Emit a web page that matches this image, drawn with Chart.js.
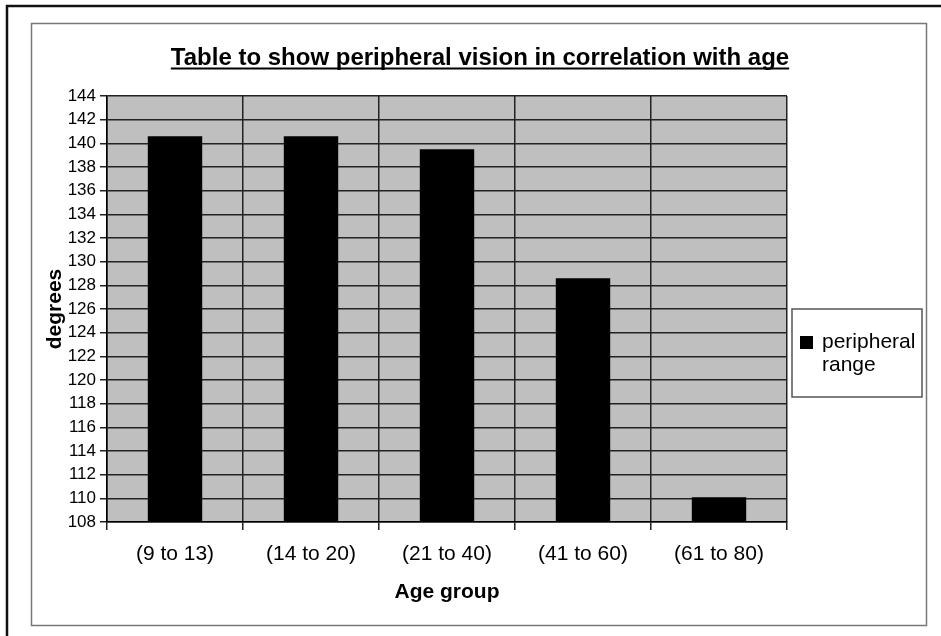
<!DOCTYPE html>
<html>
<head>
<meta charset="utf-8">
<script src="https://cdn.jsdelivr.net/npm/chart.js@4"></script>
<style>
  html, body { margin: 0; padding: 0; background: #fff; }
  #wrap { width: 941px; height: 636px; }
</style>
</head>
<body>
<div id="wrap"><canvas id="myChart" width="941" height="636"></canvas></div>
<script>
var chartTitle = "Table to show peripheral vision in correlation with age";
var ageGroups = ["(9 to 13)", "(14 to 20)", "(21 to 40)", "(41 to 60)", "(61 to 80)"];
var peripheralRange = [140.6, 140.6, 139.5, 128.6, 110.1];
var seriesName = "peripheral range";
var yMin = 108, yMax = 144, yStep = 2;

var fontFamily = "'Liberation Sans', Arial, sans-serif";

// frame, grey plot area, title and boxed legend
var framePlugin = {
    id: 'frame',
    beforeDraw: function(chart){
        var c = chart.ctx, a = chart.chartArea;
        c.save();
        c.fillStyle = '#fff';
        c.fillRect(0, 0, chart.width, chart.height);
        // outer frame (top & left only visible)
        c.strokeStyle = '#111';
        c.lineWidth = 2.5;
        c.beginPath();
        c.moveTo(7, chart.height + 5);
        c.lineTo(7, 6);
        c.lineTo(chart.width + 5, 6);
        c.stroke();
        // inner chart border
        c.strokeStyle = '#777';
        c.lineWidth = 1.5;
        c.strokeRect(31.5, 23.5, 895, 602);
        // plot background
        c.fillStyle = '#bfbfbf';
        c.fillRect(a.left, a.top, a.right - a.left, a.bottom - a.top);
        c.restore();
    },
    afterDraw: function(chart){
        var c = chart.ctx;
        c.save();
        c.fillStyle = '#000';
        c.font = 'bold 24px ' + fontFamily;
        c.textAlign = 'center';
        c.textBaseline = 'alphabetic';
        c.fillText(chartTitle, 480, 65);
        var w = c.measureText(chartTitle).width;
        c.strokeStyle = '#000';
        c.lineWidth = 2;
        c.beginPath();
        c.moveTo(480 - w / 2, 68.5);
        c.lineTo(480 + w / 2, 68.5);
        c.stroke();

        // legend box
        c.strokeStyle = '#555';
        c.lineWidth = 1.5;
        c.strokeRect(792, 309, 130, 88);
        c.fillStyle = chart.data.datasets[0].backgroundColor;
        c.fillRect(800, 336, 13, 13);
        c.fillStyle = '#000';
        c.font = '21px ' + fontFamily;
        c.textAlign = 'left';
        c.textBaseline = 'middle';
        var words = chart.data.datasets[0].label.split(' ');
        words.forEach(function(wd, i){
            c.fillText(wd, 822, 342 + i * 23);
        });
        c.restore();
    }
};

var ctx = document.getElementById("myChart");
var myChart = new Chart(ctx, {
    type: 'bar',
    data: {
        labels: ageGroups,
        datasets: [{
            label: seriesName,
            data: peripheralRange,
            backgroundColor: '#000',
            borderWidth: 0,
            categoryPercentage: 1,
            barPercentage: 0.4
        }]
    },
    options: {
        responsive: false,
        animation: false,
        layout: { padding: { left: 32, right: 154, top: 96, bottom: 10 } },
        plugins: {
            legend: { display: false },
            title: { display: false },
            tooltip: { enabled: false }
        },
        scales: {
            x: {
                grid: {
                    offset: true,
                    color: function(c){ return c.index === ageGroups.length ? '#9a9a9a' : '#222'; },
                    lineWidth: 1.5,
                    tickLength: 8
                },
                border: { color: '#000', width: 1.5 },
                ticks: {
                    color: '#000',
                    font: { family: fontFamily, size: 21 },
                    padding: 12,
                    maxRotation: 0
                },
                title: {
                    display: true,
                    text: 'Age group',
                    color: '#000',
                    font: { family: fontFamily, size: 21, weight: 'bold' },
                    padding: { top: 0, bottom: 21 }
                },
                afterFit: function(scale){ scale.height = 104; }
            },
            y: {
                min: yMin,
                max: yMax,
                grid: { color: '#222', lineWidth: 1.5, tickLength: 7 },
                border: { color: '#000', width: 1.5 },
                ticks: {
                    stepSize: yStep,
                    color: '#000',
                    font: { family: fontFamily, size: 17 },
                    padding: 4
                },
                title: {
                    display: true,
                    text: 'degrees',
                    color: '#000',
                    font: { family: fontFamily, size: 21, weight: 'bold' },
                    padding: { top: 11, bottom: 0 }
                },
                afterFit: function(scale){ scale.width = 75; }
            }
        }
    },
    plugins: [framePlugin]
});
</script>
</body>
</html>
